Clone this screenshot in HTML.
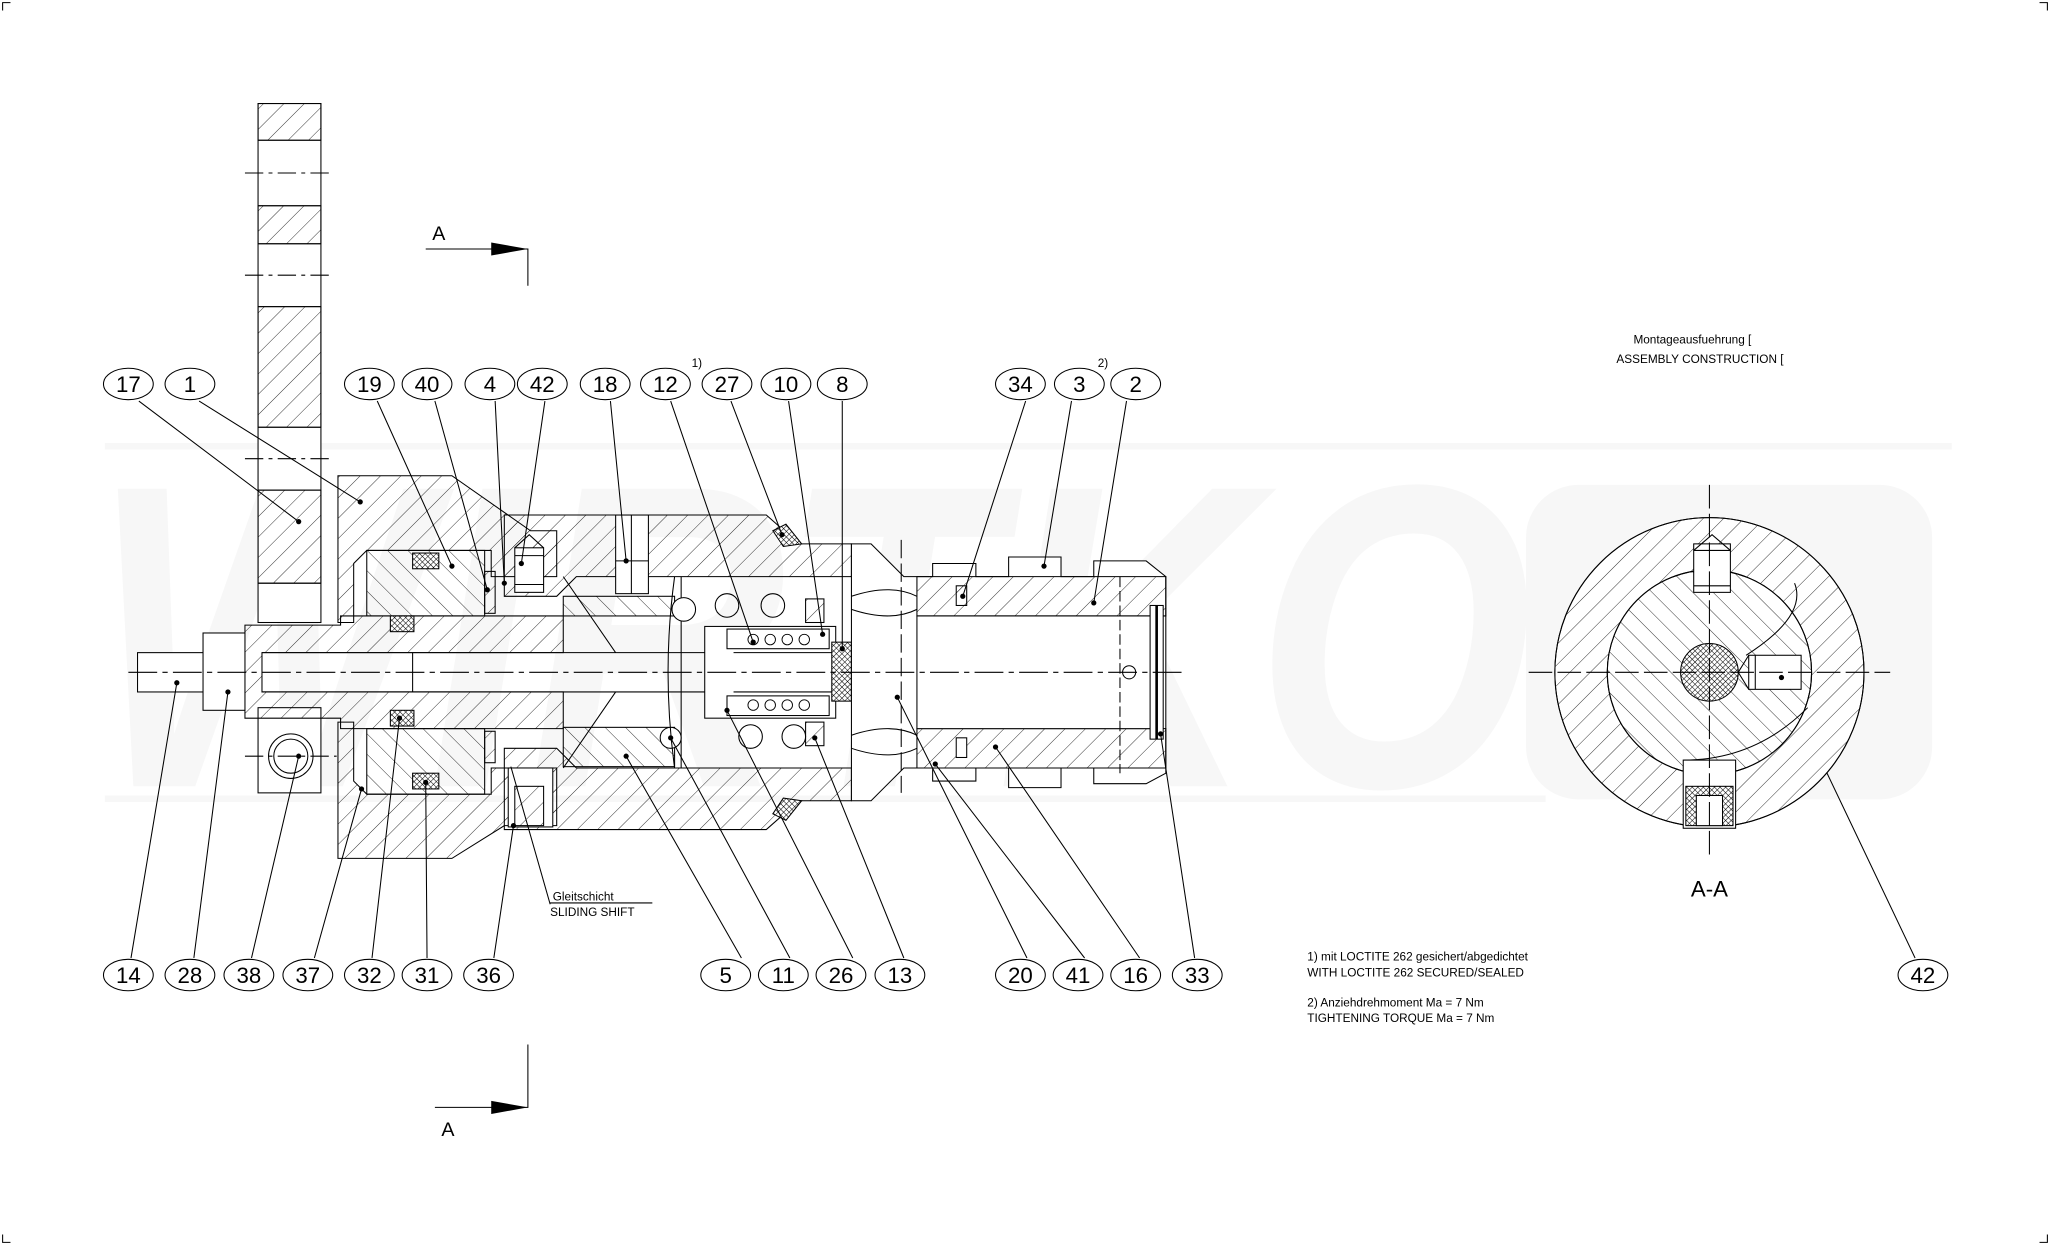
<!DOCTYPE html>
<html><head><meta charset="utf-8"><style>
html,body{margin:0;padding:0;background:#fff;}
svg{display:block;}
text{font-family:"Liberation Sans",sans-serif;fill:#000;}
</style></head><body>
<svg width="2050" height="1245" viewBox="0 0 1565 950" preserveAspectRatio="none" xmlns="http://www.w3.org/2000/svg">
<defs>
<pattern id="h" width="11" height="11" patternUnits="userSpaceOnUse" patternTransform="rotate(45)"><line x1="0" y1="0" x2="0" y2="11" stroke="#000" stroke-width="0.6"/></pattern>
<pattern id="h2" width="11" height="11" patternUnits="userSpaceOnUse" patternTransform="rotate(-45)"><line x1="0" y1="0" x2="0" y2="11" stroke="#000" stroke-width="0.6"/></pattern>
<pattern id="x" width="3" height="3" patternUnits="userSpaceOnUse" patternTransform="rotate(45)"><rect width="3" height="3" fill="#fff"/><line x1="0" y1="0" x2="0" y2="3" stroke="#000" stroke-width="0.8"/><line x1="0" y1="0" x2="3" y2="0" stroke="#000" stroke-width="0.8"/></pattern>
</defs>
<rect width="1565" height="950" fill="#fff"/>
<!-- watermark -->
<g>
<text x="70" y="600" font-size="330" font-weight="bold" font-style="italic" style="fill:#f7f7f7" textLength="1100" lengthAdjust="spacingAndGlyphs">WIRTKO</text>
<rect x="1165" y="370" width="310" height="240" rx="40" fill="#f7f7f7"/>
<rect x="80" y="338" width="1410" height="5" fill="#f7f7f7"/>
<rect x="80" y="607" width="1100" height="5" fill="#f7f7f7"/>
</g>
<g fill="none" stroke="#000" stroke-width="0.8">
<path d="M2,8V2H8M1557,2H1563V8M2,942V948H8M1563,942V948H1557"/>
<rect x="197" y="79" width="48" height="396" fill="#fff"/>
<rect x="197" y="79" width="48" height="28" fill="url(#h)"/>
<rect x="197" y="157" width="48" height="29" fill="url(#h)"/>
<rect x="197" y="234" width="48" height="92" fill="url(#h)"/>
<rect x="197" y="374" width="48" height="71" fill="url(#h)"/>
<path d="M197,107H245M197,157H245M197,186H245M197,234H245M197,326H245M197,374H245M197,445H245"/>
<path d="M187,132H255M187,210H255M187,350H255" stroke-dasharray="14,4,3,4"/>
<rect x="197" y="540" width="48" height="65" fill="#fff"/>
<circle cx="222" cy="577" r="17"/><circle cx="222" cy="577" r="13"/>
<path d="M187,577H257" stroke-dasharray="14,4,3,4"/>
<path d="M258,363H345L405,405H425V440H375V420H280L270,430V475H258Z" fill="url(#h)"/>
<path d="M258,655H345L385,630H425V586H375V606H280L270,596V551H258Z" fill="url(#h)"/>
<path d="M385,393H585L610,415H650V440H440L425,455H385Z" fill="url(#h)"/>
<path d="M385,633H585L610,611H650V586H440L425,571H385Z" fill="url(#h)"/>
<path d="M187,477H260V470H430V498H200V528H430V556H260V548H187Z" fill="url(#h)"/>
<rect x="105" y="498" width="52" height="30" fill="#fff"/>
<rect x="155" y="483" width="32" height="59" fill="#fff"/>
<path d="M200,498H560M200,528H560"/>
<path d="M315,498V528"/>
<rect x="280" y="420" width="90" height="50" fill="url(#h2)"/>
<rect x="280" y="556" width="90" height="50" fill="url(#h2)"/>
<rect x="315" y="422" width="20" height="12" fill="url(#x)"/>
<rect x="298" y="470" width="18" height="12" fill="url(#x)"/>
<rect x="298" y="542" width="18" height="12" fill="url(#x)"/>
<rect x="315" y="590" width="20" height="12" fill="url(#x)"/>
<rect x="370" y="436" width="8" height="32" fill="url(#h)"/>
<rect x="370" y="558" width="8" height="24" fill="url(#h)"/>
<rect x="393" y="418" width="22" height="34" fill="#fff"/><path d="M393,418L404,408L415,418M393,424H415M393,446H415"/>
<rect x="388" y="586" width="34" height="45" fill="#fff"/><rect x="393" y="600" width="22" height="30" fill="url(#h)"/>
<rect x="470" y="393" width="25" height="60" fill="#fff"/><path d="M470,428H495M482,393V453"/>
<rect x="430" y="455" width="85" height="15" fill="url(#h2)"/>
<rect x="430" y="555" width="85" height="30" fill="url(#h2)"/>
<path d="M430,440L470,498M430,586L470,528M520,440V586"/>
<circle cx="522" cy="465" r="9" fill="#fff"/><circle cx="512" cy="563" r="8" fill="#fff"/>
<path d="M515,440Q505,513 515,586"/>
<circle cx="555" cy="462" r="9"/><circle cx="590" cy="462" r="9"/>
<circle cx="573" cy="562" r="9"/><circle cx="606" cy="562" r="9"/>
<rect x="615" y="457" width="14" height="18" fill="url(#h)"/>
<rect x="615" y="551" width="14" height="18" fill="url(#h)"/>
<rect x="538" y="478" width="100" height="70" fill="#fff"/>
<rect x="555" y="480" width="78" height="15" fill="#fff"/><rect x="555" y="531" width="78" height="15" fill="#fff"/>
<path d="M560,498H640M560,528H640"/>
<g stroke-width="0.7"><circle cx="575" cy="488" r="4"/><circle cx="588" cy="488" r="4"/><circle cx="601" cy="488" r="4"/><circle cx="614" cy="488" r="4"/><circle cx="575" cy="538" r="4"/><circle cx="588" cy="538" r="4"/><circle cx="601" cy="538" r="4"/><circle cx="614" cy="538" r="4"/></g>
<rect x="635" y="490" width="15" height="45" fill="url(#x)"/>
<rect x="650" y="490" width="35" height="45" fill="url(#h)"/>
<rect x="655" y="498" width="30" height="30" fill="#fff"/>
<path d="M685,490A25,25 0 0 1 685,537"/>
<path d="M690,495Q705,500 705,513M690,530Q705,525 705,513"/>
<path d="M650,415H665L690,440H712V430H745V440H770V425H810V440H835V428H875L890,440V590L875,598H835V586H810V601H770V586H745V596H712V586H690L665,611H650Z" fill="#fff"/>
<path d="M700,440H890V470H700Z" fill="url(#h)"/>
<path d="M700,556H890V586H700Z" fill="url(#h)"/>
<rect x="700" y="470" width="180" height="86" fill="#fff"/>
<path d="M650,455Q680,445 700,455M650,465Q680,475 700,465M650,561Q680,551 700,561M650,571Q680,581 700,571"/>
<rect x="730" y="447" width="8" height="15" fill="url(#h)"/><rect x="730" y="563" width="8" height="15" fill="#fff"/>
<rect x="878" y="462" width="10" height="102" fill="#fff"/>
<path d="M883,462V564" stroke-width="2"/>
<circle cx="862" cy="513" r="5"/>
<path d="M855,440V590" stroke-dasharray="8,3"/>
<path d="M98,513H905" stroke-dasharray="22,4,4,4"/>
<path d="M688,412V605" stroke-dasharray="14,4"/>
<path d="M590,405L600,400L612,415L598,417Z" fill="url(#x)"/>
<path d="M590,621L600,626L612,611L598,609Z" fill="url(#x)"/>
<path d="M325,190H403V218M332,845H403V797"/>
<path d="M420,689H498M390,585L420,690"/>
<path d="M106,306L228,398M152,306L275,383M288,306L345,432M332,306L372,450M378,306L385,445M416,306L398,430M466,306L478,428M512,306L575,490M558,306L597,408M602,306L628,484M643,306L643,495M783,306L735,455M818,306L797,432M860,306L835,460"/>
<path d="M100,731L135,521M148,731L174,528M192,731L228,577M240,731L276,602M284,731L305,548M326,731L325,597M377,731L392,630M566,731L478,577M603,731L512,563M651,731L555,542M690,731L622,563M784,731L685,532M828,731L714,583M870,731L760,570M912,731L886,560M1462,731L1360,517"/>
<g fill="#fff">
<ellipse cx="98" cy="293" rx="19" ry="12"/><ellipse cx="145" cy="293" rx="19" ry="12"/><ellipse cx="282" cy="293" rx="19" ry="12"/><ellipse cx="326" cy="293" rx="19" ry="12"/><ellipse cx="374" cy="293" rx="19" ry="12"/><ellipse cx="414" cy="293" rx="19" ry="12"/><ellipse cx="462" cy="293" rx="19" ry="12"/><ellipse cx="508" cy="293" rx="19" ry="12"/><ellipse cx="555" cy="293" rx="19" ry="12"/><ellipse cx="600" cy="293" rx="19" ry="12"/><ellipse cx="643" cy="293" rx="19" ry="12"/><ellipse cx="779" cy="293" rx="19" ry="12"/><ellipse cx="824" cy="293" rx="19" ry="12"/><ellipse cx="867" cy="293" rx="19" ry="12"/>
<ellipse cx="98" cy="744" rx="19" ry="12"/><ellipse cx="145" cy="744" rx="19" ry="12"/><ellipse cx="190" cy="744" rx="19" ry="12"/><ellipse cx="235" cy="744" rx="19" ry="12"/><ellipse cx="282" cy="744" rx="19" ry="12"/><ellipse cx="326" cy="744" rx="19" ry="12"/><ellipse cx="373" cy="744" rx="19" ry="12"/><ellipse cx="554" cy="744" rx="19" ry="12"/><ellipse cx="598" cy="744" rx="19" ry="12"/><ellipse cx="642" cy="744" rx="19" ry="12"/><ellipse cx="687" cy="744" rx="19" ry="12"/><ellipse cx="779" cy="744" rx="19" ry="12"/><ellipse cx="823" cy="744" rx="19" ry="12"/><ellipse cx="867" cy="744" rx="19" ry="12"/><ellipse cx="914" cy="744" rx="19" ry="12"/><ellipse cx="1468" cy="744" rx="19" ry="12"/>
</g>
<circle cx="1305" cy="513" r="118" fill="#fff"/>
<circle cx="1305" cy="513" r="118" fill="url(#h)"/>
<circle cx="1305" cy="513" r="78" fill="#fff"/>
<circle cx="1305" cy="513" r="78" fill="url(#h2)"/>
<path d="M1333,500Q1380,470 1370,445"/>
<path d="M1285,580Q1340,580 1380,540"/>
<circle cx="1305" cy="513" r="22" fill="url(#x)"/>
<rect x="1293" y="415" width="28" height="37" fill="#fff"/><path d="M1293,420L1307,408L1321,420M1293,447H1321M1293,420H1321"/>
<rect x="1335" y="500" width="40" height="26" fill="#fff"/><path d="M1335,500L1327,513L1335,526M1340,500V526"/>
<rect x="1285" y="580" width="40" height="52" fill="#fff"/><rect x="1287" y="600" width="36" height="30" fill="url(#x)"/><rect x="1295" y="607" width="20" height="23" fill="#fff"/>
<path d="M1167,513H1443M1305,370V652" stroke-dasharray="18,4"/>
</g>
<g fill="#000">
<circle cx="228" cy="398" r="2"/><circle cx="275" cy="383" r="2"/><circle cx="345" cy="432" r="2"/><circle cx="372" cy="450" r="2"/><circle cx="385" cy="445" r="2"/><circle cx="398" cy="430" r="2"/><circle cx="478" cy="428" r="2"/><circle cx="575" cy="490" r="2"/><circle cx="597" cy="408" r="2"/><circle cx="628" cy="484" r="2"/><circle cx="643" cy="495" r="2"/><circle cx="735" cy="455" r="2"/><circle cx="797" cy="432" r="2"/><circle cx="835" cy="460" r="2"/>
<circle cx="135" cy="521" r="2"/><circle cx="174" cy="528" r="2"/><circle cx="228" cy="577" r="2"/><circle cx="276" cy="602" r="2"/><circle cx="305" cy="548" r="2"/><circle cx="325" cy="597" r="2"/><circle cx="392" cy="630" r="2"/><circle cx="478" cy="577" r="2"/><circle cx="512" cy="563" r="2"/><circle cx="555" cy="542" r="2"/><circle cx="622" cy="563" r="2"/><circle cx="685" cy="532" r="2"/><circle cx="714" cy="583" r="2"/><circle cx="760" cy="570" r="2"/><circle cx="886" cy="560" r="2"/><circle cx="1360" cy="517" r="2"/>
<path d="M375,185L403,190L375,195Z"/><path d="M375,840L403,845L375,850Z"/>
</g>
<g font-size="17" text-anchor="middle">
<text x="98" y="299">17</text><text x="145" y="299">1</text><text x="282" y="299">19</text><text x="326" y="299">40</text><text x="374" y="299">4</text><text x="414" y="299">42</text><text x="462" y="299">18</text><text x="508" y="299">12</text><text x="555" y="299">27</text><text x="600" y="299">10</text><text x="643" y="299">8</text><text x="779" y="299">34</text><text x="824" y="299">3</text><text x="867" y="299">2</text>
<text x="98" y="750">14</text><text x="145" y="750">28</text><text x="190" y="750">38</text><text x="235" y="750">37</text><text x="282" y="750">32</text><text x="326" y="750">31</text><text x="373" y="750">36</text><text x="554" y="750">5</text><text x="598" y="750">11</text><text x="642" y="750">26</text><text x="687" y="750">13</text><text x="779" y="750">20</text><text x="823" y="750">41</text><text x="867" y="750">16</text><text x="914" y="750">33</text><text x="1468" y="750">42</text>
<text x="335" y="183" font-size="15">A</text><text x="342" y="867" font-size="15">A</text>
<text x="1305" y="684" font-size="17">A-A</text>
</g>
<g font-size="9">
<text x="528" y="280">1)</text><text x="838" y="280">2)</text>
<text x="422" y="687">Gleitschicht</text><text x="420" y="699">SLIDING SHIFT</text>
<text x="1247" y="262">Montageausfuehrung [</text><text x="1234" y="277">ASSEMBLY CONSTRUCTION [</text>
<text x="998" y="733">1) mit LOCTITE 262 gesichert/abgedichtet</text>
<text x="998" y="745">WITH LOCTITE 262 SECURED/SEALED</text>
<text x="998" y="768">2) Anziehdrehmoment Ma = 7 Nm</text>
<text x="998" y="780">TIGHTENING TORQUE Ma = 7 Nm</text>
</g>
</svg>
</body></html>
